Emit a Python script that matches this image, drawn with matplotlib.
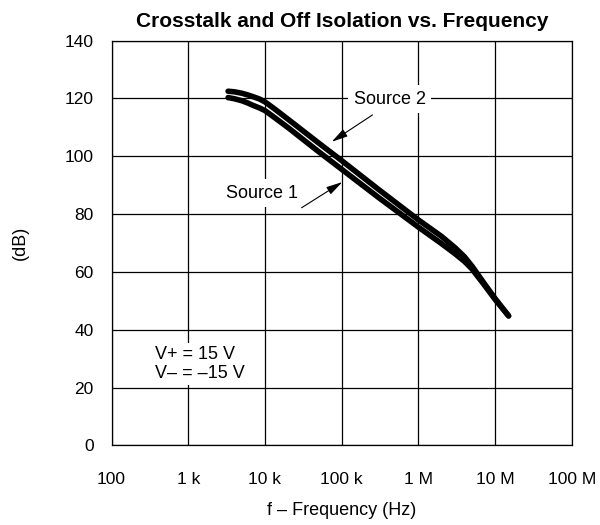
import numpy as np
import matplotlib.pyplot as plt

plt.rcParams['font.family'] = ['Liberation Sans', 'DejaVu Sans']

freq_src2 = [3.3e3, 4e3, 5e3, 6e3, 7e3, 8.5e3, 1e4, 1.3e4, 2e4, 5e4, 1e5, 3e5,
             1e6, 2e6, 3e6, 4e6, 5e6, 7e6, 1e7, 1.5e7]
db_src2 = [122.5, 122.3, 121.8, 121.2, 120.6, 119.8, 118.8, 116.6, 112.8, 104.6, 98.5, 88.6,
           78.0, 72.3, 68.4, 65.2, 62.0, 56.5, 50.8, 44.8]
freq_src1 = [3.3e3, 4e3, 5e3, 6e3, 7e3, 8.5e3, 1e4, 1.3e4, 2e4, 5e4, 1e5, 3e5,
             1e6, 2e6, 3e6, 4e6, 5e6, 7e6, 1e7, 1.5e7]
db_src1 = [120.3, 119.9, 119.2, 118.4, 117.6, 116.7, 115.8, 113.6, 109.9, 101.6, 95.5, 85.8,
           75.5, 69.8, 66.3, 63.6, 61.0, 56.0, 50.5, 44.8]

xticks = [1e2, 1e3, 1e4, 1e5, 1e6, 1e7, 1e8]
xlabels = ['100', '1 k', '10 k', '100 k', '1 M', '10 M', '100 M']
yticks = [0, 20, 40, 60, 80, 100, 120, 140]

fig = plt.figure(figsize=(6, 5.25), dpi=100)
ax = fig.add_axes([0.186, 0.1516, 0.767, 0.771])

ax.plot(freq_src1, db_src1, color='black', lw=4.0, solid_capstyle='round',
        solid_joinstyle='round', zorder=3)
ax.plot(freq_src2, db_src2, color='black', lw=4.0, solid_capstyle='round',
        solid_joinstyle='round', zorder=3)

ax.set_xscale('log')
ax.set_xlim(1e2, 1e8)
ax.set_ylim(0, 140)
ax.set_xticks(xticks)
ax.set_xticklabels(xlabels)
ax.minorticks_off()
ax.set_yticks(yticks)
ax.tick_params(axis='x', length=0, pad=19, labelsize=12.5)
ax.tick_params(axis='y', length=0, pad=13, labelsize=12.5)
ax.grid(True, color='black', lw=0.9)
ax.set_axisbelow(True)
for s in ax.spines.values():
    s.set_linewidth(0.9)

ax.set_title('Crosstalk and Off Isolation vs. Frequency', fontsize=15, fontweight='bold', pad=10)
ax.set_xlabel('f – Frequency (Hz)', fontsize=13, labelpad=11)
ax.set_ylabel('(dB)', fontsize=13, labelpad=26)

box = dict(facecolor='white', edgecolor='none', pad=4)
arrow = dict(arrowstyle='-|>,head_length=0.7,head_width=0.18', color='black', lw=0.8,
             mutation_scale=14, shrinkA=0, shrinkB=0)
ax.text(4.2e5, 119.8, 'Source 2', fontsize=13, ha='center', va='center', bbox=box, zorder=4)
ax.text(9.06e3, 87.3, 'Source 1', fontsize=13, ha='center', va='center', bbox=box, zorder=4)
ax.annotate('', xy=(7.4e4, 105), xytext=(2.52e5, 114.3), arrowprops=arrow, zorder=4)
ax.annotate('', xy=(1.02e5, 91.1), xytext=(3.0e4, 82.2), arrowprops=arrow, zorder=4)
ax.text(3.66e2, 28.2, 'V+ = 15 V\nV– = –15 V', fontsize=13, ha='left', va='center',
        linespacing=1.12, bbox=dict(facecolor='white', edgecolor='none', pad=2.5), zorder=4)

fig.savefig('out.png', dpi=100)
